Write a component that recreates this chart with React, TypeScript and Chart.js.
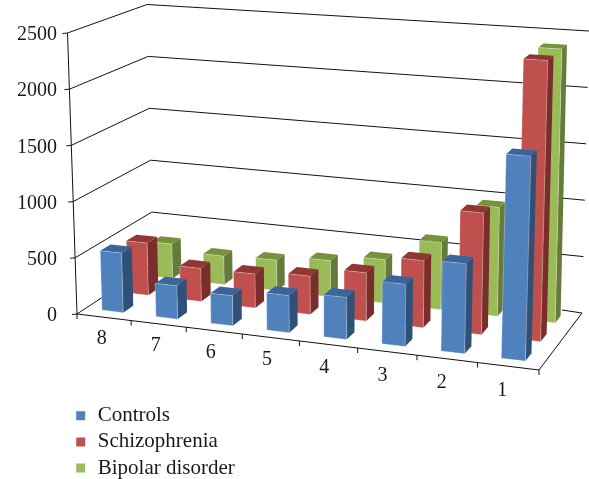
import React, { useEffect, useRef } from "react";
import { Chart, registerables, BarController, BarElement } from "chart.js";

const categories = ["8", "7", "6", "5", "4", "3", "2", "1"];
const controls = [531, 295, 262, 320, 360, 528, 755, 1700];
const schizophrenia = [478, 300, 304, 340, 424, 583, 1047, 2395];
const bipolar = [325, 265, 280, 330, 392, 600, 961, 2395];
const yTicks = [0, 500, 1000, 1500, 2000, 2500];

const FONT = "'Liberation Serif', serif";
const FRONT = ["#4F81BD", "#C0504D", "#9BBB59"];
const SIDE = ["#2F5178", "#7A2E2C", "#667B39"];
const TOP = ["#39659A", "#8E3735", "#76923C"];
const DEPTH = [[0.117, 0.254], [0.46, 0.595], [0.79, 0.91]];

// box corners on screen: [x, y]
const FL0 = [77, 314], FR0 = [539, 370], BR0 = [582, 313], BL0 = [153, 264];
const FL1 = [67.5, 33], FR1 = [548, 65], BR1 = [589, 31], BL1 = [147, 4.5];
const PERSP = 1.077;

function project(u: number, w: number, h: number): number[] {
  const t = u / (u + PERSP * (1 - u));
  return [0, 1].map((k) => {
    const f0 = FL0[k] + (FR0[k] - FL0[k]) * t;
    const b0 = BL0[k] + (BR0[k] - BL0[k]) * t;
    const f1 = FL1[k] + (FR1[k] - FL1[k]) * t;
    const b1 = BL1[k] + (BR1[k] - BL1[k]) * t;
    const p0 = f0 + (b0 - f0) * w;
    const p1 = f1 + (b1 - f1) * w;
    return p0 + (p1 - p0) * h;
  });
}

function poly(ctx: CanvasRenderingContext2D, pts: number[][], fill: string) {
  ctx.beginPath();
  pts.forEach((p, i) => (i ? ctx.lineTo(p[0], p[1]) : ctx.moveTo(p[0], p[1])));
  ctx.closePath();
  ctx.fillStyle = fill;
  ctx.fill();
}

class Bar3DElement extends BarElement {
  static id = "bar3dElement";
  draw(ctx: CanvasRenderingContext2D) {
    const self = this as any;
    const area = self.area3d;
    const ds = self.series3d;
    const W = area.right - area.left;
    const H = area.bottom - area.top;
    const u0 = (self.x - self.width / 2 - area.left) / W;
    const u1 = (self.x + self.width / 2 - area.left) / W;
    const h0 = (area.bottom - self.base) / H;
    const h1 = (area.bottom - self.y) / H;
    const [w0, w1] = DEPTH[ds];
    ctx.save();
    poly(ctx, [project(u1, w0, h0), project(u1, w1, h0), project(u1, w1, h1), project(u1, w0, h1)], SIDE[ds]);
    poly(ctx, [project(u0, w0, h1), project(u1, w0, h1), project(u1, w1, h1), project(u0, w1, h1)], TOP[ds]);
    const front = [project(u0, w0, h0), project(u1, w0, h0), project(u1, w0, h1), project(u0, w0, h1)];
    poly(ctx, front, FRONT[ds]);
    ctx.strokeStyle = "rgba(255,255,255,0.35)";
    ctx.lineWidth = 0.8;
    ctx.stroke();
    ctx.restore();
  }
}

class Bar3DController extends BarController {
  static id = "bar3d";
  static defaults = { ...(BarController as any).defaults, dataElementType: "bar3dElement" };
  draw() {
    const self = this as any;
    self._cachedMeta.data.forEach((el: any) => {
      el.area3d = self.chart.chartArea;
      el.series3d = self.index;
    });
    super.draw();
  }
}

Chart.register(...registerables, Bar3DElement as any, Bar3DController as any);

function line(ctx: CanvasRenderingContext2D, pts: number[][]) {
  ctx.beginPath();
  pts.forEach((p, i) => (i ? ctx.lineTo(p[0], p[1]) : ctx.moveTo(p[0], p[1])));
  ctx.stroke();
}

const framePlugin = {
  id: "frame3d",
  afterLayout(chart: any) {
    const lg = chart.legend;
    lg.left = 69;
    lg.top = 400;
    lg.right = 400;
    lg.bottom = 2000;
  },
  beforeDatasetsDraw(chart: any) {
    const { ctx, scales } = chart;
    const y = scales.y;
    const x = scales.x;
    const area = chart.chartArea;
    const H = area.bottom - area.top;
    ctx.save();
    ctx.strokeStyle = "#111";
    ctx.lineWidth = 1;
    // gridlines over the two walls, driven by the value scale
    y.ticks.forEach((t: any) => {
      const h = (area.bottom - y.getPixelForValue(t.value)) / H;
      const a = project(0, 0, h);
      line(ctx, [[a[0] - 5, a[1] + 0.5], a, project(0, 1, h), ...(h > 0 ? [project(1, 1, h)] : [])]);
    });
    // wall edge and floor
    line(ctx, [project(0, 0, 1), project(0, 0, 0), project(1, 0, 0), project(1, 1, 0), [562, 310]]);
    // category ticks and labels
    ctx.fillStyle = "#1a1a1a";
    ctx.font = "20px " + FONT;
    ctx.textAlign = "center";
    ctx.textBaseline = "middle";
    const W = area.right - area.left;
    const n = categories.length;
    for (let i = 0; i <= n; i++) {
      const p = project(i / n, 0, 0);
      line(ctx, [p, [p[0], p[1] + 5]]);
    }
    x.ticks.forEach((t: any, i: number) => {
      const u = (x.getPixelForTick(i) - area.left) / W;
      const p = project(u, 0, 0);
      ctx.fillText(String(t.label), p[0] - 2 - 4 * u, p[1] + 21 + 4 * u);
    });
    ctx.restore();
  },
};

export default function App() {
  const ref = useRef<HTMLCanvasElement>(null);
  useEffect(() => {
    document.body.style.margin = "0";
    const chart = new Chart(ref.current as HTMLCanvasElement, {
      type: "bar3d" as any,
      data: {
        labels: categories,
        datasets: [
          { label: "Controls", data: controls, backgroundColor: FRONT[0] },
          { label: "Schizophrenia", data: schizophrenia, backgroundColor: FRONT[1] },
          { label: "Bipolar disorder", data: bipolar, backgroundColor: FRONT[2] },
        ],
      },
      options: {
        responsive: false,
        animation: false,
        devicePixelRatio: 1,
        layout: { padding: { left: 0, right: 50, top: 33, bottom: 165 } },
        datasets: { bar3d: { grouped: false, barPercentage: 0.395, categoryPercentage: 1, clip: false } },
        scales: {
          x: {
            type: "category",
            offset: true,
            grid: { display: false },
            border: { display: false },
            ticks: { display: false },
            afterFit: (s: any) => { s.height = 0; },
          },
          y: {
            type: "linear",
            min: 0,
            max: 2500,
            afterBuildTicks: (s: any) => { s.ticks = yTicks.map((value) => ({ value })); },
            grid: { display: false, drawTicks: false },
            border: { display: false },
            ticks: {
              padding: 20,
              labelOffset: 2,
              color: "#1a1a1a",
              font: { family: FONT, size: 20 },
              callback: (v: any) => String(v),
            },
            afterFit: (s: any) => { s.width = 77; },
          },
        },
        plugins: {
          tooltip: { enabled: false },
          legend: {
            position: "chartArea",
            align: "start",
            labels: {
              boxWidth: 13,
              boxHeight: 13,
              color: "#1a1a1a",
              padding: 5.2,
              font: { family: FONT, size: 21 },
              generateLabels: (ch: any) =>
                ch.data.datasets.map((d: any, i: number) => ({
                  text: d.label,
                  fillStyle: FRONT[i],
                  strokeStyle: "#fff",
                  lineWidth: 4,
                  datasetIndex: i,
                  fontColor: "#1a1a1a",
                })),
            },
          },
        },
      } as any,
      plugins: [framePlugin],
    });
    return () => chart.destroy();
  }, []);
  return <canvas ref={ref} width={589} height={479} style={{ display: "block" }} />;
}
